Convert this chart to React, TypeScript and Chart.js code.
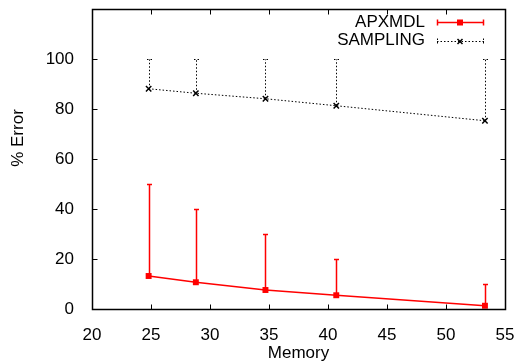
import React, { useEffect, useRef } from "react";
import { Chart, registerables } from "chart.js";

Chart.register(...registerables);

const memory = [24.8, 28.8, 34.7, 40.7, 53.3];
const apxmdl = [13.2, 10.7, 7.6, 5.5, 1.3];
const apxmdlHigh = [50, 40, 30, 20, 10];
const sampling = [88.1, 86.3, 84.1, 81.3, 75.3];
const samplingHigh = [100, 100, 100, 100, 100];
const seriesNames = ["APXMDL", "SAMPLING"];
const xTitle = "Memory";
const yTitle = "% Error";

const FONT = "'Liberation Sans', Arial, Helvetica, sans-serif";
const FS = 17;

const errorHighs = [apxmdlHigh, samplingHigh];
const seriesWidths = [1.5, 1];
const seriesDash = [[], [1.5, 2]];

const gnuplotPlugin = {
  id: "gnuplotDeco",
  beforeDatasetsDraw(chart: any) {
    const ctx = chart.ctx;
    const xs = chart.scales.x;
    const ys = chart.scales.y;
    chart.data.datasets.forEach((ds: any, i: number) => {
      const highs = errorHighs[i];
      ctx.save();
      ctx.strokeStyle = ds.borderColor;
      ctx.lineWidth = seriesWidths[i];
      ctx.setLineDash(seriesDash[i]);
      ds.data.forEach((p: any, j: number) => {
        const px = Math.round(xs.getPixelForValue(p.x)) + 0.5;
        const py = ys.getPixelForValue(p.y);
        const ph = Math.round(ys.getPixelForValue(highs[j])) + 0.5;
        ctx.beginPath();
        ctx.moveTo(px, py);
        ctx.lineTo(px, ph);
        ctx.moveTo(px - 2.5, ph);
        ctx.lineTo(px + 2.5, ph);
        ctx.stroke();
      });
      ctx.restore();
    });
  },
  afterDraw(chart: any) {
    const ctx = chart.ctx;
    const a = chart.chartArea;
    const xs = chart.scales.x;
    const ys = chart.scales.y;
    ctx.save();
    ctx.setLineDash([]);
    ctx.lineDashOffset = 0;
    ctx.globalAlpha = 1;
    ctx.strokeStyle = "#000000";
    ctx.lineWidth = 1.5;
    const L = Math.round(a.left) + 0.5;
    const R = Math.round(a.right) + 0.5;
    const T = Math.round(a.top) + 0.5;
    const B = Math.round(a.bottom) + 0.5;
    ctx.beginPath();
    ctx.moveTo(L, T);
    ctx.lineTo(R, T);
    ctx.lineTo(R, B);
    ctx.lineTo(L, B);
    ctx.closePath();
    ctx.stroke();
    ctx.lineWidth = 1;
    ctx.beginPath();
    xs.ticks.forEach((t: any) => {
      const px = Math.round(xs.getPixelForValue(t.value)) + 0.5;
      ctx.moveTo(px, B);
      ctx.lineTo(px, B - 5);
      ctx.moveTo(px, T);
      ctx.lineTo(px, T + 5);
    });
    ys.ticks.forEach((t: any) => {
      const py = Math.round(ys.getPixelForValue(t.value)) + 0.5;
      ctx.moveTo(L, py);
      ctx.lineTo(L + 5, py);
      ctx.moveTo(R, py);
      ctx.lineTo(R - 5, py);
    });
    ctx.stroke();

    // axis titles
    ctx.fillStyle = "#000";
    ctx.font = `${FS}px ${FONT}`;
    ctx.textAlign = "center";
    ctx.textBaseline = "middle";
    ctx.fillText(xTitle, (a.left + a.right) / 2, 353);
    ctx.save();
    ctx.translate(18, 138);
    ctx.rotate(-Math.PI / 2);
    ctx.fillText(yTitle, 0, 0);
    ctx.restore();

    // legend
    const rows = [22, 40.5];
    chart.data.datasets.forEach((ds: any, i: number) => {
      const y = rows[i];
      ctx.fillStyle = "#000";
      ctx.textAlign = "right";
      ctx.textBaseline = "middle";
      ctx.fillText(ds.label, 425, y);
      ctx.strokeStyle = ds.borderColor;
      ctx.lineWidth = seriesWidths[i];
      ctx.setLineDash(seriesDash[i]);
      const yy = Math.round(y) + 0.5;
      ctx.beginPath();
      ctx.moveTo(437, yy);
      ctx.lineTo(484, yy);
      ctx.stroke();
      ctx.beginPath();
      ctx.moveTo(437.5, yy - 3);
      ctx.lineTo(437.5, yy + 3);
      ctx.moveTo(483.5, yy - 3);
      ctx.lineTo(483.5, yy + 3);
      ctx.stroke();
      ctx.setLineDash([]);
      if (i === 0) {
        ctx.fillStyle = ds.borderColor;
        ctx.fillRect(457, yy - 3, 6, 6);
      } else {
        ctx.lineWidth = 1.5;
        ctx.beginPath();
        ctx.moveTo(457.5, yy - 2.5);
        ctx.lineTo(462.5, yy + 2.5);
        ctx.moveTo(462.5, yy - 2.5);
        ctx.lineTo(457.5, yy + 2.5);
        ctx.stroke();
      }
    });
    ctx.restore();
  },
};

export default function App() {
  const ref = useRef<HTMLCanvasElement | null>(null);
  useEffect(() => {
    if (!ref.current) return;
    const chart = new Chart(ref.current, {
      type: "scatter",
      data: {
        datasets: [
          {
            label: seriesNames[0],
            data: memory.map((m, i) => ({ x: m, y: apxmdl[i] })),
            showLine: true,
            borderColor: "#ff0000",
            backgroundColor: "#ff0000",
            borderWidth: seriesWidths[0],
            pointStyle: "rect",
            pointRadius: 4.2,
            pointBorderWidth: 0,
          },
          {
            label: seriesNames[1],
            data: memory.map((m, i) => ({ x: m, y: sampling[i] })),
            showLine: true,
            borderColor: "#000000",
            backgroundColor: "#000000",
            borderWidth: seriesWidths[1],
            borderDash: seriesDash[1],
            pointStyle: "crossRot",
            pointRadius: 3.8,
            pointBorderWidth: 1.5,
          },
        ],
      },
      options: {
        responsive: false,
        animation: false,
        layout: { padding: { top: 9, right: 14, left: 0, bottom: 0 } },
        plugins: {
          legend: { display: false },
          tooltip: { enabled: false },
        },
        scales: {
          x: {
            type: "linear",
            min: 20,
            max: 55,
            grid: { display: false },
            border: { display: false },
            ticks: {
              stepSize: 5,
              padding: 8,
              color: "#000",
              font: { family: FONT, size: FS },
              maxRotation: 0,
            },
            afterFit: (s: any) => {
              s.height = 53;
              s.paddingLeft = 0;
              s.paddingRight = 0;
            },
          },
          y: {
            type: "linear",
            min: 0,
            max: 120,
            grid: { display: false },
            border: { display: false },
            ticks: {
              stepSize: 20,
              padding: 10,
              color: "#000",
              font: { family: FONT, size: FS },
            },
            afterBuildTicks: (s: any) => {
              s.ticks = s.ticks.filter((t: any) => t.value <= 100);
            },
            afterFit: (s: any) => {
              s.width = 92;
              s.paddingTop = 0;
              s.paddingBottom = 0;
            },
          },
        },
      },
      plugins: [gnuplotPlugin],
    } as any);
    return () => chart.destroy();
  }, []);
  return (
    <div style={{ position: "fixed", left: 0, top: 0, width: 519, height: 362, background: "#fff" }}>
      <canvas ref={ref} width={519} height={362} />
    </div>
  );
}
